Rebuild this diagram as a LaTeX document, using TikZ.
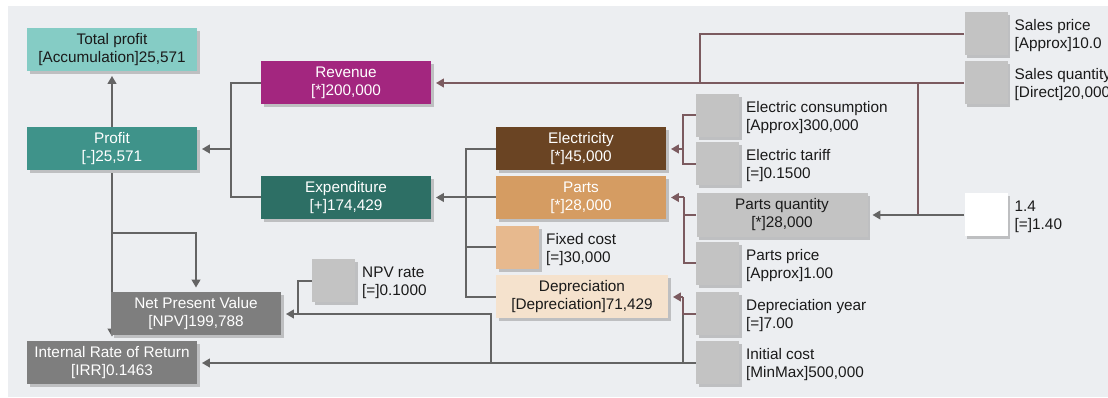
\documentclass[tikz,border=0pt]{standalone}
\usepackage{fontspec}
\setmainfont{Liberation Sans}
\usetikzlibrary{arrows.meta,shadows}
\pgfdeclarelayer{back}
\pgfdeclarelayer{mid}
\pgfsetlayers{back,mid,main}
\definecolor{bgc}{HTML}{ECEEF1}
\definecolor{shadowc}{HTML}{BEBFC1}
\definecolor{ctotal}{HTML}{85CCC5}
\definecolor{cprofit}{HTML}{3F938A}
\definecolor{crev}{HTML}{A3267F}
\definecolor{cexp}{HTML}{2D6F65}
\definecolor{celec}{HTML}{6A4423}
\definecolor{cparts}{HTML}{D59C62}
\definecolor{cfixed}{HTML}{E7B98E}
\definecolor{cdep}{HTML}{F5E2CD}
\definecolor{csq}{HTML}{C3C3C3}
\definecolor{cnpv}{HTML}{7E7E7E}
\definecolor{lgray}{HTML}{646464}
\definecolor{lmauve}{HTML}{7B5A5F}
\definecolor{txt}{HTML}{1A1A1A}
\begin{document}
\begin{tikzpicture}[x=0.75pt,y=-0.75pt,
  shad/.style={drop shadow={shadow xshift=2.2pt,shadow yshift=-2.2pt,fill=shadowc,opacity=1}},
  box/.style={shad,inner sep=0pt,minimum width=127.5pt,minimum height=32.25pt,align=center,
    font=\fontsize{11.5}{13.5}\selectfont,text=white},
  sq/.style={shad,inner sep=0pt,minimum size=32.25pt,fill=csq},
  lbl/.style={anchor=west,inner sep=0pt,align=left,font=\fontsize{11.5}{13.5}\selectfont,text=txt},
  gline/.style={draw=lgray,line width=1.5pt},
  mline/.style={draw=lmauve,line width=1.5pt},
  tip/.style={-{Triangle[length=6pt,width=6.5pt]},shorten >=3.5pt}]
\useasboundingbox (0,0) rectangle (1108,398);
\begin{pgfonlayer}{back}
\fill[bgc] (8,6) rectangle (1108,397);
\end{pgfonlayer}

% main boxes
\node[box,fill=ctotal,text=txt] (total) at (112,49.5) {Total profit\\{}[Accumulation]25,571};
\node[box,fill=cprofit] (profit) at (112,149) {Profit\\{}[-]25,571};
\node[box,fill=crev] (revenue) at (346,83) {Revenue\\{}[*]200,000};
\node[box,fill=cexp] (expend) at (346,197.5) {Expenditure\\{}[+]174,429};
\node[box,fill=celec] (elec) at (581,149) {Electricity\\{}[*]45,000};
\node[box,fill=cparts] (parts) at (581,197.5) {Parts\\{}[*]28,000};
\node[box,fill=cdep,text=txt,minimum width=129pt] (deprec) at (582,297) {Depreciation\\{}[Depreciation]71,429};
\node[box,fill=cnpv] (npv) at (196,314) {Net Present Value\\{}[NPV]199,788};
\node[box,fill=cnpv] (irr) at (112,363) {Internal Rate of Return\\{}[IRR]0.1463};
\node[box,fill=csq,text=txt,minimum width=128.25pt,minimum height=33pt] (partsqty) at (782,215) {Parts quantity\\{}[*]28,000};

% squares
\node[sq,fill=cfixed] (fixed) at (517.5,247.5) {};
\node[sq] (econs) at (717.5,115.5) {};
\node[sq] (etariff) at (717.5,164) {};
\node[sq] (pprice) at (717.5,263.5) {};
\node[sq] (depyear) at (717.5,314) {};
\node[sq] (initcost) at (717.5,363) {};
\node[sq] (salesprice) at (986,34) {};
\node[sq] (salesqty) at (986,83) {};
\node[sq,fill=white] (onefour) at (986,215) {};
\node[sq] (npvrate) at (333.5,281) {};

% labels
\node[lbl] (fixed-t) at ([xshift=5pt,yshift=-1.5pt]fixed.east) {Fixed cost\\{}[=]30,000};
\node[lbl] (econs-t) at ([xshift=5pt,yshift=-1.5pt]econs.east) {Electric consumption\\{}[Approx]300,000};
\node[lbl] (etariff-t) at ([xshift=5pt,yshift=-1.5pt]etariff.east) {Electric tariff\\{}[=]0.1500};
\node[lbl] (pprice-t) at ([xshift=5pt,yshift=-1.5pt]pprice.east) {Parts price\\{}[Approx]1.00};
\node[lbl] (depyear-t) at ([xshift=5pt,yshift=-1.5pt]depyear.east) {Depreciation year\\{}[=]7.00};
\node[lbl] (initcost-t) at ([xshift=5pt,yshift=-1.5pt]initcost.east) {Initial cost\\{}[MinMax]500,000};
\node[lbl] (salesprice-t) at ([xshift=5pt,yshift=-1.5pt]salesprice.east) {Sales price\\{}[Approx]10.0};
\node[lbl] (salesqty-t) at ([xshift=5pt,yshift=-1.5pt]salesqty.east) {Sales quantity\\{}[Direct]20,000};
\node[lbl] (onefour-t) at ([xshift=5pt,yshift=-1.5pt]onefour.east) {1.4\\{}[=]1.40};
\node[lbl] (npvrate-t) at ([xshift=5pt,yshift=-1.5pt]npvrate.east) {NPV rate\\{}[=]0.1000};

% junction coordinates
\coordinate (jrp) at (231,149);
\coordinate (jsp) at (700,83);
\coordinate (jsq) at (918,83);
\coordinate (je) at (683,149);
\coordinate (jp) at (684,197.5);
\coordinate (jd) at (683,297);
\coordinate (jn) at (491,363);
\coordinate (jr) at (298,314);
\coordinate (jx1) at (466,149);
\coordinate (jx2) at (466,297);
\coordinate (jb) at (112,233);

\begin{pgfonlayer}{mid}
% profit
\draw[gline,tip] (profit.north) -- (total.south);
\draw[gline,tip] (profit.south) -- (irr.north);
\draw[gline,tip] (jb) -| (npv.north);
% revenue / expenditure
\draw[gline] (revenue.west) -| (jrp);
\draw[gline] (expend.west) -| (jrp);
\draw[gline,tip] (jrp) -- (profit.east);
% sales
\draw[mline] (salesprice.west) -| (jsp);
\draw[mline,tip] (salesqty.west) -- (revenue.east);
\draw[mline] (jsq) -- (jsq |- partsqty.east);
\draw[gline,tip] (onefour.west) -- (partsqty.east);
% electricity
\draw[mline] (econs.west) -- (econs.west -| je) -- (etariff.west -| je) -- (etariff.west);
\draw[mline,tip] (je) -- (elec.east);
% parts
\draw[mline] (pprice.west) -| (jp);
\draw[mline] (partsqty.west) -- (partsqty.west -| jp);
\draw[mline,tip] (jp) -- (parts.east);
% depreciation
\draw[gline] (initcost.west -| jd) -- (depyear.west -| jd);
\draw[mline] (depyear.west) -| (jd);
\draw[mline,tip] (jd) -- (deprec.east);
% initial cost
\draw[gline,tip] (initcost.west) -- (irr.east);
\draw[gline,tip] (jn) |- (npv.east);
\draw[gline] (npvrate.west) -| (jr);
% expenditure inputs
\draw[gline] (elec.west) -- (jx1) -- (jx2) -- (deprec.west);
\draw[gline] (fixed.west) -- (fixed.west -| jx1);
\draw[gline,tip] (parts.west) -- (expend.east);
\end{pgfonlayer}
\end{tikzpicture}
\end{document}
